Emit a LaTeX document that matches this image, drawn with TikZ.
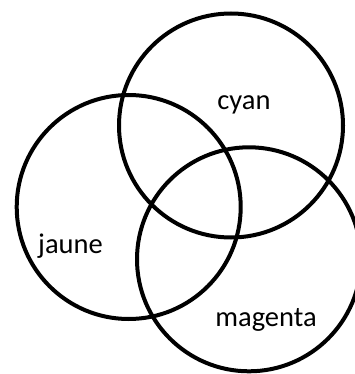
\documentclass[tikz,border=0pt]{standalone}
\usepackage{fontspec}
\setmainfont{Carlito}
\usepackage{tikz}
\usetikzlibrary{positioning}

\tikzset{
    ensemble/.style={circle, draw, line width=4pt, minimum size=224pt, inner sep=0pt},
    couleur/.style={font=\fontsize{28.5}{34}\selectfont, inner sep=0pt, anchor=base}
}

\begin{document}
\begin{tikzpicture}[x=1pt, y=-1pt]
    \useasboundingbox (0,0) rectangle (354,374);
    % Les trois cercles
    \node[ensemble] (cercleC) at (231,125.5) {};
    \node[ensemble] (cercleJ) at (128.7,207) {};
    \node[ensemble] (cercleM) at (249,259.3) {};
    % Les noms des couleurs
    \node[couleur] (nomC) at (244,110) {cyan};
    \node[couleur] (nomJ) at (70.5,253) {jaune};
    \node[couleur] (nomM) at (266,326) {magenta};
\end{tikzpicture}
\end{document}
